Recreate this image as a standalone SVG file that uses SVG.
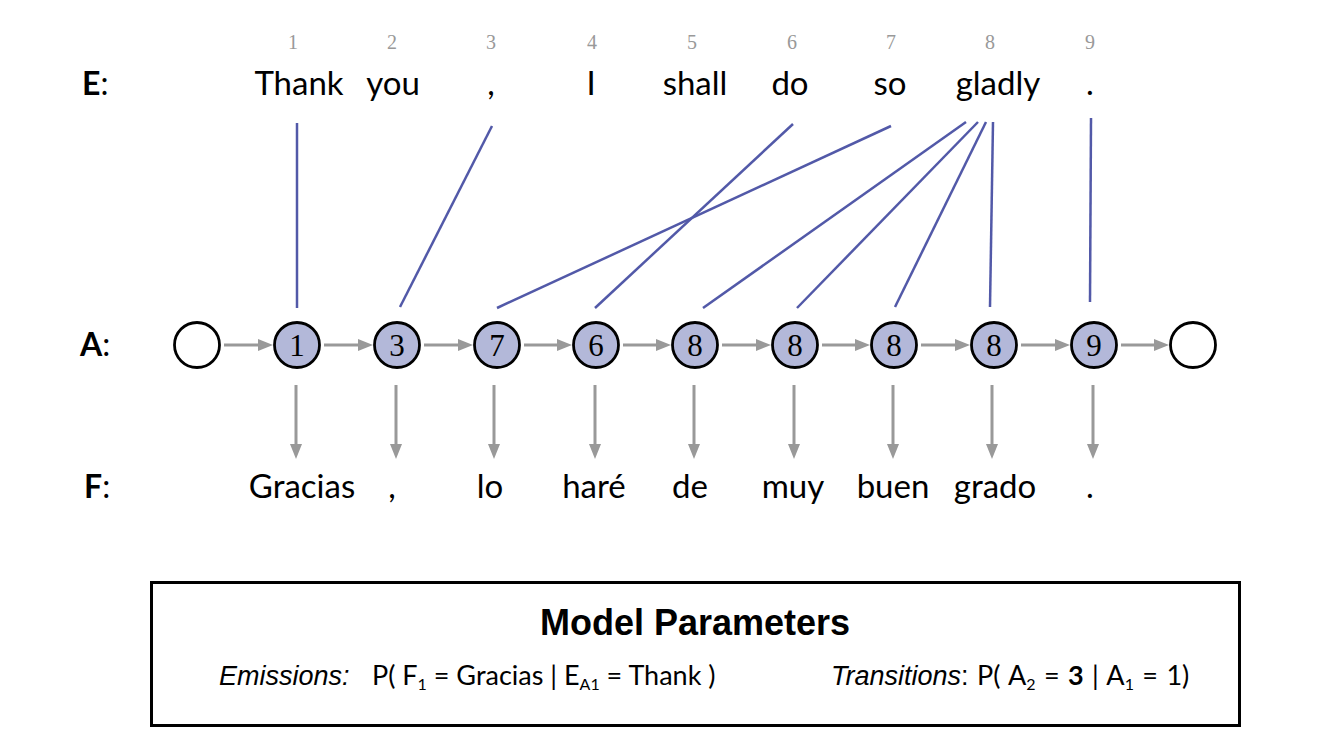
<svg xmlns="http://www.w3.org/2000/svg" width="1324" height="750" viewBox="0 0 1324 750">
<style>
.w{font-family:Lato,"Open Sans","Noto Sans",sans-serif;font-size:33px;fill:#000;text-anchor:middle}
.n{font-family:"Liberation Serif","DejaVu Serif",serif;font-size:20px;fill:#999;text-anchor:middle}
.lab{font-family:Lato,"Liberation Sans",sans-serif;font-size:32px;fill:#000}
.st{fill:#b3b8d9;stroke:#000;stroke-width:2.8}
.se{fill:#fff;stroke:#000;stroke-width:2.8}
.sn{font-family:"Liberation Serif","DejaVu Serif",serif;font-size:31px;fill:#000;text-anchor:middle}
.ga{stroke:#999;stroke-width:3;fill:none;marker-end:url(#ah)}
.al{stroke:#5259a8;stroke-width:2.5;fill:none}
.p{font-family:Lato,"Open Sans",sans-serif;font-size:27px;fill:#000}
.it{font-family:"Liberation Sans",Arial,sans-serif;font-style:italic;font-size:27px;fill:#000}
</style>
<defs>
<marker id="ah" markerUnits="userSpaceOnUse" markerWidth="16" markerHeight="14" viewBox="0 0 16 14" refX="6" refY="7" orient="auto">
<path d="M0,1 L15,7 L0,13 z" fill="#999"/>
</marker>
</defs>

<g id="labels">
<text class="lab" x="82" y="95"><tspan font-weight="bold">E</tspan>:</text>
<text class="lab" x="80" y="356"><tspan font-weight="bold">A</tspan>:</text>
<text class="lab" x="84" y="498"><tspan font-weight="bold">F</tspan>:</text>
</g>

<g id="english">
<text class="n" x="293" y="49">1</text>
<text class="n" x="392" y="49">2</text>
<text class="n" x="491" y="49">3</text>
<text class="n" x="592" y="49">4</text>
<text class="n" x="692" y="49">5</text>
<text class="n" x="792" y="49">6</text>
<text class="n" x="891" y="49">7</text>
<text class="n" x="990" y="49">8</text>
<text class="n" x="1090" y="49">9</text>
<text class="w" x="299" y="95">Thank</text>
<text class="w" x="393" y="95">you</text>
<text class="w" x="491" y="95">,</text>
<text class="w" x="591" y="95">I</text>
<text class="w" x="695" y="95">shall</text>
<text class="w" x="790" y="95">do</text>
<text class="w" x="890" y="95">so</text>
<text class="w" x="998" y="95">gladly</text>
<text class="w" x="1090" y="95">.</text>
</g>

<g id="connectors">
<line class="al" x1="297" y1="123" x2="297" y2="308"/>
<line class="al" x1="492" y1="126" x2="400" y2="307"/>
<line class="al" x1="793" y1="124" x2="595" y2="308"/>
<line class="al" x1="891" y1="126" x2="497" y2="308"/>
<line class="al" x1="966" y1="122" x2="703" y2="308"/>
<line class="al" x1="978" y1="122" x2="797" y2="308"/>
<line class="al" x1="986" y1="122" x2="895" y2="307"/>
<line class="al" x1="993" y1="122" x2="990" y2="307"/>
<line class="al" x1="1091" y1="118" x2="1090" y2="302"/>

<line class="ga" x1="224" y1="345" x2="264" y2="345"/>
<line class="ga" x1="324" y1="345" x2="364" y2="345"/>
<line class="ga" x1="424" y1="345" x2="464" y2="345"/>
<line class="ga" x1="524" y1="345" x2="563" y2="345"/>
<line class="ga" x1="623" y1="345" x2="662" y2="345"/>
<line class="ga" x1="722" y1="345" x2="762" y2="345"/>
<line class="ga" x1="822" y1="345" x2="861" y2="345"/>
<line class="ga" x1="921" y1="345" x2="961" y2="345"/>
<line class="ga" x1="1021" y1="345" x2="1061" y2="345"/>
<line class="ga" x1="1121" y1="345" x2="1160" y2="345"/>

<line class="ga" x1="296" y1="385" x2="296" y2="450"/>
<line class="ga" x1="396" y1="385" x2="396" y2="450"/>
<line class="ga" x1="494" y1="385" x2="494" y2="450"/>
<line class="ga" x1="595" y1="385" x2="595" y2="450"/>
<line class="ga" x1="694" y1="385" x2="694" y2="450"/>
<line class="ga" x1="794" y1="385" x2="794" y2="450"/>
<line class="ga" x1="893" y1="385" x2="893" y2="450"/>
<line class="ga" x1="992" y1="385" x2="992" y2="450"/>
<line class="ga" x1="1093" y1="385" x2="1093" y2="450"/>
</g>

<g id="start"><circle class="se" cx="197" cy="345" r="22.5"/></g>
<g id="a1"><circle class="st" cx="297" cy="345" r="22.5"/><text class="sn" x="297" y="356">1</text></g>
<g id="a2"><circle class="st" cx="397" cy="345" r="22.5"/><text class="sn" x="397" y="356">3</text></g>
<g id="a3"><circle class="st" cx="497" cy="345" r="22.5"/><text class="sn" x="497" y="356">7</text></g>
<g id="a4"><circle class="st" cx="596" cy="345" r="22.5"/><text class="sn" x="596" y="356">6</text></g>
<g id="a5"><circle class="st" cx="695" cy="345" r="22.5"/><text class="sn" x="695" y="356">8</text></g>
<g id="a6"><circle class="st" cx="795" cy="345" r="22.5"/><text class="sn" x="795" y="356">8</text></g>
<g id="a7"><circle class="st" cx="894" cy="345" r="22.5"/><text class="sn" x="894" y="356">8</text></g>
<g id="a8"><circle class="st" cx="994" cy="345" r="22.5"/><text class="sn" x="994" y="356">8</text></g>
<g id="a9"><circle class="st" cx="1094" cy="345" r="22.5"/><text class="sn" x="1094" y="356">9</text></g>
<g id="end"><circle class="se" cx="1193" cy="345" r="22.5"/></g>

<g id="spanish">
<text class="w" x="302" y="498">Gracias</text>
<text class="w" x="392" y="498">,</text>
<text class="w" x="490" y="498">lo</text>
<text class="w" x="594" y="498">haré</text>
<text class="w" x="690" y="498">de</text>
<text class="w" x="793" y="498">muy</text>
<text class="w" x="893" y="498">buen</text>
<text class="w" x="995" y="498">grado</text>
<text class="w" x="1090" y="498">.</text>
</g>

<g id="params">
<rect x="151.5" y="582.5" width="1088" height="143" fill="#fff" stroke="#000" stroke-width="3"/>
<text x="695" y="635" font-family="Liberation Sans,Arial,sans-serif" font-weight="bold" font-size="36" text-anchor="middle">Model Parameters</text>
<text class="it" x="219" y="685">Emissions:</text>
<text class="p" x="372" y="685">P( F<tspan font-size="16" dy="5">1</tspan><tspan dy="-5"> = Gracias | E</tspan><tspan font-size="16" dy="5">A1</tspan><tspan dy="-5"> = Thank )</tspan></text>
<text class="it" x="831" y="685">Transitions<tspan font-style="normal">:</tspan></text>
<text class="p" x="977" y="685" word-spacing="1.5">P( A<tspan font-size="16" dy="5">2</tspan><tspan dy="-5"> = </tspan><tspan font-weight="bold">3</tspan> | A<tspan font-size="16" dy="5">1</tspan><tspan dy="-5"> = 1)</tspan></text>
</g>
</svg>
